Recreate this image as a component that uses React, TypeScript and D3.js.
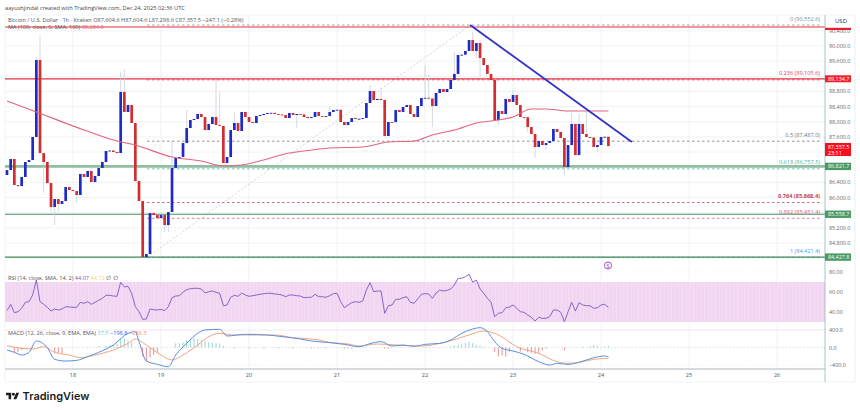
import * as d3 from 'd3';

const firstOpen = 86594;
const closes = [
  86726, 87017, 86330, 86304, 86542, 86938, 86990, 87598, 89630, 87175,
  86938, 86383, 85750, 85961, 85829, 85908, 86278, 86198, 86172, 86066,
  86621, 86542, 86700, 86410, 86568, 86779, 86938, 87228, 87241, 87202,
  87175, 88786, 88258, 88442, 87967, 86436, 85908, 84430, 84509, 85591,
  85538, 85459, 85538, 85274, 85618, 86779, 87043, 87070, 87439, 87835,
  88046, 88073, 88205, 88126, 87782, 87941, 88126, 87914, 87888, 86911,
  87070, 87782, 87967, 87756, 88258, 88126, 87994, 87967, 88152, 88178,
  88205, 88231, 88236, 88205, 88192, 88178, 88099, 88231, 88178, 88205,
  88192, 88126, 88099, 88126, 88258, 88152, 88139, 88152, 88258, 88310,
  88318, 87994, 87914, 87994, 88099, 88073, 88080, 88099, 88495, 88812,
  88574, 88601, 88574, 87624, 87994, 87990, 88310, 88258, 88390, 88442,
  88205, 88126, 88416, 88627, 88633, 88614, 88416, 88759, 88865, 88786,
  88865, 89102, 89261, 89762, 89770, 89868, 90158, 89868, 90079, 89683,
  89498, 89261, 89102, 88046, 88284, 88205, 88601, 88522, 88706, 88442,
  88126, 88120, 87862, 87677, 87334, 87492, 87386, 87439, 87492, 87809,
  87730, 87571, 86806, 87386, 87941, 87122, 87941, 87677, 87598, 87585,
  87334, 87386, 87598, 87604, 87357,
];

// candles whose wicks are long enough to read
const highIdx = [8, 9, 31, 32, 45, 49, 57, 58, 62, 88, 99, 102, 114, 115, 122, 127, 129, 138, 154, 156, 158];
const highVal = [89700, 90290, 89314, 89366, 87518, 88310, 89102, 88786, 88258, 88390, 88970, 88891, 89498, 89234, 89842, 90370, 90158, 88838, 88231, 88231, 88258];
const lowIdx = [3, 10, 12, 13, 14, 19, 43, 44, 79, 116, 128, 129, 134, 142, 144, 147, 152, 161];
const lowVal = [86251, 86119, 85618, 85274, 85618, 85855, 85090, 85090, 87835, 87862, 89683, 89182, 87914, 87730, 87043, 87254, 86594, 87202];

const maIdx = [0, 8, 21, 29, 35, 45, 53, 59, 64, 70, 77, 79, 88, 97, 104, 111, 116, 123, 128, 134, 138, 143, 147, 153, 158, 164];
const maVal = [88548, 88258, 87782, 87518, 87386, 87070, 86964, 86832, 86858, 86990, 87175, 87202, 87307, 87334, 87465, 87492, 87650, 87809, 87967, 88046, 88126, 88337, 88337, 88284, 88284, 88284];

const rsi = [
  41.3, 47.7, 39.3, 40.3, 43.7, 49.7, 50.3, 57, 72, 50.3,
  47.7, 44.7, 41, 43, 42, 43, 45.3, 45, 44.7, 44.7,
  49.7, 48.7, 50.3, 47.7, 49.7, 51.7, 53.7, 56.7, 56.7, 56,
  55.7, 69.7, 65, 65.7, 58.7, 45.3, 40.3, 32.7, 33, 43,
  42.3, 42, 42.7, 41.3, 45.3, 54.3, 56, 56.3, 59.7, 62.3,
  63.3, 63.7, 63.7, 63, 59, 60.3, 61, 59.7, 58.7, 46.3,
  47, 54.7, 56.7, 55.7, 59, 57, 55.7, 56.3, 57, 57.7,
  58.3, 58.7, 58.7, 58, 57.7, 57, 55.3, 57, 57, 56.3,
  56, 54.3, 54.7, 54.7, 57.7, 55.3, 55.3, 54.7, 56.3, 58.3,
  58.7, 50.3, 44.3, 47, 49.3, 50.3, 49.7, 51, 62, 69.3,
  60.3, 61, 61, 38.7, 46.3, 47, 52.7, 52.7, 54.3, 55.3,
  49.7, 48.7, 53, 57.7, 58.3, 58, 53.7, 59, 62, 61,
  61.7, 63, 67, 73.7, 73.7, 75.3, 77.7, 69.7, 72, 63,
  58.7, 53.7, 49.7, 35.3, 38.7, 39.3, 44.3, 45, 47, 43.7,
  40.3, 39.7, 37, 34.7, 31, 34.7, 33.7, 33.7, 35.3, 42,
  42, 39.7, 30.3, 40.3, 49.7, 41, 49.3, 47, 46.3, 46.3,
  43.7, 44.3, 47, 47.7, 44.7,
];

const macdIdx = [0, 2, 4, 6, 8, 11, 13, 16, 19, 22, 25, 29, 33, 35, 36, 38, 41, 44, 46, 49, 52, 54, 58, 60, 65, 71, 75, 80, 83, 87, 92, 96, 99, 102, 105, 108, 111, 114, 118, 121, 124, 127, 129, 131, 133, 135, 138, 141, 145, 148, 150, 153, 156, 160, 163, 164];
const macdVal = [-57, -111, -172, -111, 149, -4, -271, -309, -294, -210, -111, 57, 324, 362, 134, -309, -385, -439, -172, 95, 324, 401, 416, 263, 301, 286, 248, 195, 149, 118, 72, 19, 88, 134, 34, 57, 27, 72, 95, 172, 324, 423, 454, 362, 134, -19, -80, -156, -324, -401, -362, -385, -340, -233, -195, -210];
const signalIdx = [0, 4, 7, 10, 13, 17, 20, 24, 29, 33, 35, 38, 42, 45, 48, 52, 55, 58, 62, 67, 73, 78, 85, 88, 93, 96, 101, 106, 113, 119, 126, 130, 134, 139, 145, 150, 153, 156, 160, 164];
const signalVal = [42, -19, -34, 19, -111, -172, -233, -172, -57, 95, 195, 57, -172, -286, -172, 57, 248, 324, 286, 286, 286, 225, 172, 118, 80, 34, 80, 57, 34, 111, 286, 378, 286, 19, -134, -324, -362, -340, -271, -248];
const histIdx = [2, 3, 4, 13, 14, 15, 22, 25, 27, 28, 29, 30, 31, 32, 33, 34, 37, 38, 39, 40, 41, 46, 47, 48, 49, 50, 51, 52, 53, 54, 55, 56, 57, 58, 59, 62, 66, 70, 74, 78, 83, 85, 87, 92, 93, 94, 103, 104, 121, 122, 123, 124, 125, 126, 127, 128, 129, 130, 133, 134, 135, 136, 137, 140, 142, 143, 144, 145, 146, 147, 152, 157, 159, 160, 161, 163, 164];
const histVal = [-110, -110, -60, -120, -130, -140, 15, 30, 40, 50, 70, 80, 210, 210, 160, 120, -200, -320, -230, -170, -130, 95, 100, 120, 170, 200, 210, 190, 175, 150, 120, 110, 100, 90, 40, -20, -15, -15, -15, -15, -15, -15, -15, -25, -25, -25, -25, -25, 30, 50, 60, 90, 100, 120, 100, 60, 50, 20, -100, -200, -180, -210, -100, -90, -110, -120, -150, -130, -60, -30, -70, 25, 30, 60, 40, 30, 37.5];

const priceTicks = [90400, 90000, 89600, 88800, 88400, 88000, 87600, 86400, 86000, 85200, 84800];
const gridPrices = [90400, 90000, 89600, 89200, 88800, 88400, 88000, 87600, 87200, 86800, 86400, 86000, 85600, 85200, 84800, 84400];
const rsiTicks = [80, 60, 40];
const macdTicks = [400, 0, -400];
const dayLabels = ['18', '19', '20', '21', '22', '23', '24', '25', '26'];
const dayIdx = [18, 42, 66, 90, 114, 138, 162, 186, 210];

const fibLabels = ['0 (90,552.6)', '0.236 (89,105.6)', '0.5 (87,487.0)', '0.618 (86,757.5)', '0.764 (85,868.4)', '0.882 (85,451.4)', '1 (84,421.4)'];
const fibPrices = [90552.6, 89105.6, 87487, 86757.5, 85868.4, 85451.4, 84421.4];
const fibColours = ['#78909c', '#e0455a', '#777777', '#4db6ac', '#c2455e', '#d8607a', '#4aa3df'];

const redLevels = [90502, 89134.7];
const greenLevels = [86821.7, 85558.7, 84427.8];
const greenWidths = [2.6, 1.1, 1.1];
const greenColours = ['#8fbf9f', '#4e8f63', '#3f8a58'];

const trendIdx = [126.3, 170.4];
const trendVal = [90552, 87467];
const fibDiagIdx = [38.2, 126.3];
const fibDiagVal = [84421, 90552];

const UP = '#1f2bc6';
const DOWN = '#cf2f33';
const FONT = '"Open Sans", "Noto Sans", sans-serif';

const x = d3.scaleLinear().domain([0, 164]).range([7, 608.4]);
const y = d3.scaleLinear().domain([90000, 84800]).range([46, 243]);
const rsiY = d3.scaleLinear().domain([60, 40]).range([292, 312]);
const macdY = d3.scaleLinear().domain([400, -400]).range([330, 365]);
const fmt = d3.format(',.1f');

const LEFT = 5;
const RIGHT = 825;

function pairLine(ix: number[], vals: number[], scale: (v: number) => number) {
  const line = d3.line<number>()
    .x((d) => x(d))
    .y((_, i) => scale(vals[i]))
    .curve(d3.curveMonotoneX);
  return line(ix) ?? '';
}

export default function App() {
  const rsiPath = d3.line<number>().x((_, i) => x(i)).y((d) => rsiY(d))(rsi) ?? '';

  return (
    <svg width={860} height={410} style={{ position: 'absolute', left: 0, top: 0, background: '#fff' }} fontFamily={FONT}>
      <defs>
        <pattern id="rsiStripes" width={x(1) - x(0)} height={4} patternUnits="userSpaceOnUse">
          <rect width={x(1) - x(0)} height={4} fill="#f1d5f1" />
          <rect width={0.7} height={4} fill="#f6e2f6" />
        </pattern>
      </defs>

      <text x={5} y={9.5} fontSize={5.7} fill="#444">aayushjindal created with TradingView.com, Dec 24, 2025 02:36 UTC</text>

      {/* frame and grid */}
      <rect x={LEFT} y={15} width={850} height={367} fill="none" stroke="#e3eef0" strokeWidth={0.6} />
      <line x1={855} x2={855} y1={15} y2={382} stroke="#dde5e8" strokeWidth={0.6} strokeDasharray="1 1.5" />
      {gridPrices.map((p) => (
        <line key={p} x1={LEFT} x2={RIGHT} y1={y(p)} y2={y(p)} stroke="#e8eef1" strokeWidth={0.7} />
      ))}
      {dayIdx.map((d) => (
        <line key={d} x1={x(d)} x2={x(d)} y1={15} y2={369} stroke="#e6edf0" strokeWidth={0.7} />
      ))}

      {/* fib */}
      <line
        x1={x(fibDiagIdx[0])} y1={y(fibDiagVal[0])} x2={x(fibDiagIdx[1])} y2={y(fibDiagVal[1])}
        stroke="#c3c9cd" strokeWidth={0.8} strokeDasharray="2 2"
      />
      {fibPrices.map((p, i) => (
        <g key={p}>
          <line x1={147} x2={RIGHT - 4} y1={y(p)} y2={y(p)} stroke={fibColours[i]} strokeWidth={0.8} strokeDasharray="2.5 2.5" />
          <text x={820} y={y(p) - 4.5} fontSize={5.6} textAnchor="end" fill={fibColours[i]} fontWeight={i === 4 ? 700 : 400}>{fibLabels[i]}</text>
        </g>
      ))}

      {/* levels */}
      {redLevels.map((p) => (
        <line key={p} x1={LEFT} x2={RIGHT} y1={y(p)} y2={y(p)} stroke="#e3303f" strokeWidth={1.2} />
      ))}
      {greenLevels.map((p, i) => (
        <line key={p} x1={LEFT} x2={RIGHT} y1={y(p)} y2={y(p)} stroke={greenColours[i]} strokeWidth={greenWidths[i]} />
      ))}

      {/* candles */}
      {closes.map((c, i) => {
        const o = i === 0 ? firstOpen : closes[i - 1];
        const hiAt = highIdx.indexOf(i);
        const loAt = lowIdx.indexOf(i);
        const hi = hiAt >= 0 ? highVal[hiAt] : Math.max(o, c);
        const lo = loAt >= 0 ? lowVal[loAt] : Math.min(o, c);
        const top = y(Math.max(o, c));
        const h = Math.max(0.9, Math.abs(y(o) - y(c)));
        return (
          <g key={i}>
            <line x1={x(i)} x2={x(i)} y1={y(hi)} y2={y(lo)} stroke="#c6d2da" strokeWidth={0.8} />
            <rect x={x(i) - 1.35} y={top} width={2.7} height={h} fill={c >= o ? UP : DOWN} />
          </g>
        );
      })}

      <path d={pairLine(maIdx, maVal, y)} fill="none" stroke="#e4637f" strokeWidth={1.1} />
      <path d={pairLine(trendIdx, trendVal, y)} fill="none" stroke="#3434c4" strokeWidth={1.8} />

      {/* legend */}
      <text x={8} y={21.5} fontSize={5.6} fill="#555">Bitcoin / U.S. Dollar · 1h · Kraken  O87,604.6  H87,604.6  L87,298.6  C87,357.5  −247.1 (−0.28%)</text>
      <text x={8} y={29} fontSize={5.6} fill="#555">MA (100, close, 0, SMA, 100) <tspan fill="#e4637f">88,284.8</tspan></text>

      {/* dividend marker */}
      <circle cx={608} cy={265.5} r={3.6} fill="#fff" stroke="#9c3fc0" strokeWidth={0.9} />
      <text x={608} y={267.6} fontSize={5.5} textAnchor="middle" fill="#7b2fa8">S</text>

      {/* RSI */}
      <rect x={LEFT} y={rsiY(70)} width={RIGHT - LEFT} height={rsiY(30) - rsiY(70)} fill="url(#rsiStripes)" />
      <line x1={LEFT} x2={RIGHT} y1={rsiY(80)} y2={rsiY(80)} stroke="#e3eaed" strokeWidth={0.6} strokeDasharray="1 1.5" />
      <path d={rsiPath} fill="none" stroke="#7e57c2" strokeWidth={0.9} />
      <text x={8} y={280} fontSize={5.6} fill="#555">RSI (14, close, SMA, 14, 2) <tspan fill="#7e57c2">44.07</tspan> <tspan fill="#f5d76e">44.72</tspan> <tspan>∅ ∅</tspan></text>

      {/* MACD */}
      <line x1={LEFT} x2={RIGHT} y1={macdY(400)} y2={macdY(400)} stroke="#dfe3e5" strokeWidth={0.7} />
      <line x1={LEFT} x2={RIGHT} y1={macdY(0)} y2={macdY(0)} stroke="#d5dcdf" strokeWidth={0.7} strokeDasharray="2 1.5" />
      <line x1={LEFT} x2={RIGHT} y1={macdY(-400)} y2={macdY(-400)} stroke="#e3eaed" strokeWidth={0.6} strokeDasharray="1 1.5" />
      {histIdx.map((d, i) => (
        <line
          key={d} x1={x(d)} x2={x(d)} y1={macdY(0)} y2={macdY(histVal[i])}
          stroke={histVal[i] >= 0 ? '#80cbc4' : '#e57373'} strokeWidth={0.8}
        />
      ))}
      <path d={pairLine(signalIdx, signalVal, macdY)} fill="none" stroke="#f3a683" strokeWidth={1} />
      <path d={pairLine(macdIdx, macdVal, macdY)} fill="none" stroke="#5b8fe0" strokeWidth={1} />
      <text x={8} y={335} fontSize={5.6} fill="#555">MACD (12, 26, close, 9, EMA, EMA) <tspan fill="#80cbc4">37.5</tspan> <tspan fill="#2962ff">−198.8</tspan> <tspan fill="#f08a5d">−236.3</tspan></text>

      {/* time axis */}
      <line x1={LEFT} x2={RIGHT} y1={369} y2={369} stroke="#9aa3a8" strokeWidth={0.8} />
      {dayLabels.map((d, i) => (
        <text key={d} x={x(dayIdx[i])} y={377} fontSize={5.6} textAnchor="middle" fill="#555">{d}</text>
      ))}

      {/* right axis */}
      <line x1={RIGHT} x2={RIGHT} y1={15} y2={382} stroke="#8fb5b8" strokeWidth={0.8} />
      <text x={835} y={23} fontSize={6} fill="#333">USD</text>
      {priceTicks.map((p) => (
        <text key={p} x={829} y={y(p) + 2} fontSize={5.4} fill="#666">{fmt(p)}</text>
      ))}
      {rsiTicks.map((v) => (
        <text key={v} x={829} y={rsiY(v) + 2} fontSize={5.4} fill="#666">{v.toFixed(2)}</text>
      ))}
      {macdTicks.map((v) => (
        <text key={v} x={829} y={macdY(v) + 2} fontSize={5.4} fill="#666">{fmt(v).replace('-', '−')}</text>
      ))}

      <rect x={RIGHT} y={27.8} width={26} height={2.2} fill="#e3202f" />
      <rect x={RIGHT} y={y(redLevels[1]) - 3.5} width={26} height={7} fill="#f0202e" />
      <text x={828} y={y(redLevels[1]) + 2} fontSize={5.4} fill="#fff">{fmt(redLevels[1])}</text>
      <rect x={RIGHT} y={143} width={26} height={13} fill="#f5101c" />
      <text x={828} y={148.5} fontSize={5.4} fill="#fff">87,357.5</text>
      <text x={828} y={154.5} fontSize={5.4} fill="#fff">23:11</text>
      {greenLevels.map((p) => (
        <g key={p}>
          <rect x={RIGHT} y={y(p) - 3.7} width={26} height={7.4} fill="#4c9a63" />
          <text x={828} y={y(p) + 2} fontSize={5.4} fill="#fff">{fmt(p)}</text>
        </g>
      ))}

      {/* logo */}
      <g transform="translate(6 391.2) scale(0.37)" fill="#1f1f1f">
        <path d="M14 22H7V11H0V4h14v18zM28 22h-8l7.5-18h8L28 22z" />
        <circle cx={20} cy={8} r={4} />
      </g>
      <text x={22.5} y={400} fontSize={11} fontWeight={600} fill="#1f1f1f" fontFamily='"Inter", sans-serif'>TradingView</text>
    </svg>
  );
}
